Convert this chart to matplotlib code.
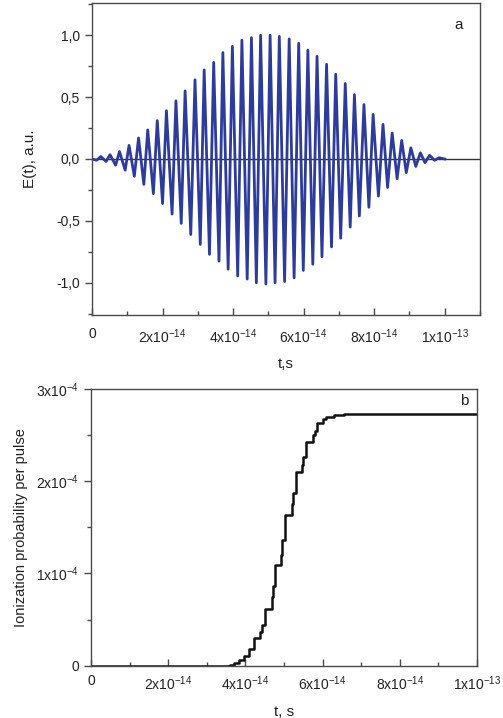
import matplotlib
matplotlib.use("Agg")
import matplotlib.pyplot as plt
import numpy as np
from matplotlib.ticker import MultipleLocator

plt.rcParams['font.family'] = ['Liberation Sans', 'DejaVu Sans']
plt.rcParams['mathtext.fontset'] = 'custom'
plt.rcParams['mathtext.rm'] = 'Liberation Sans'
plt.rcParams['mathtext.it'] = 'Liberation Sans:italic'
plt.rcParams['mathtext.bf'] = 'Liberation Sans:bold'
plt.rcParams['mathtext.default'] = 'rm'

# ---- Panel a: field extrema (t in 1e-14 s, amplitude in a.u.) ----
pos_t = [0.25, 0.51, 0.78, 1.05, 1.32, 1.58, 1.85, 2.11, 2.38, 2.64, 2.92, 3.18,
         3.45, 3.71, 3.98, 4.25, 4.52, 4.78, 5.05, 5.31, 5.59, 5.86, 6.12, 6.38,
         6.65, 6.91, 7.18, 7.44, 7.71, 7.97, 8.25, 8.51, 8.78, 9.04, 9.31, 9.57, 9.84]
pos_E = [0.02, 0.035, 0.06, 0.11, 0.17, 0.235, 0.31, 0.39, 0.47, 0.55, 0.64, 0.72,
         0.78, 0.86, 0.91, 0.96, 0.98, 1.0, 1.0, 0.99, 0.97, 0.935, 0.88, 0.83,
         0.765, 0.685, 0.61, 0.52, 0.44, 0.36, 0.28, 0.21, 0.15, 0.09, 0.05, 0.03, 0.01]
neg_t = [0.13, 0.40, 0.67, 0.94, 1.20, 1.47, 1.74, 2.00, 2.27, 2.53, 2.80, 3.07,
         3.33, 3.60, 3.86, 4.13, 4.40, 4.66, 4.93, 5.19, 5.46, 5.73, 5.99, 6.26,
         6.52, 6.79, 7.05, 7.32, 7.58, 7.85, 8.12, 8.38, 8.65, 8.91, 9.18, 9.44, 9.71]
neg_E = [-0.01, -0.02, -0.05, -0.09, -0.14, -0.205, -0.28, -0.36, -0.445, -0.52,
         -0.61, -0.69, -0.77, -0.825, -0.89, -0.945, -0.97, -1.0, -1.01, -1.0,
         -0.99, -0.96, -0.9, -0.85, -0.79, -0.71, -0.64, -0.55, -0.46, -0.39,
         -0.30, -0.23, -0.16, -0.11, -0.06, -0.03, -0.01]
pulse_start = 0.0
pulse_end = 10.0

# ---- Panel b: ionization probability steps (t in 1e-14 s, P in 1e-4) ----
step_t = [0.0, 3.60, 3.70, 3.83, 3.97, 4.10, 4.22, 4.37, 4.42, 4.50, 4.69, 4.72,
          4.76, 4.93, 4.96, 5.02, 5.20, 5.23, 5.30, 5.47, 5.50, 5.57, 5.76, 5.80,
          5.85, 6.00, 6.10, 6.30, 6.55, 10.0]
step_P = [0.0, 0.01, 0.03, 0.06, 0.10, 0.18, 0.30, 0.37, 0.44, 0.62, 0.75, 0.86,
          1.09, 1.20, 1.36, 1.63, 1.75, 1.87, 2.10, 2.18, 2.26, 2.43, 2.50, 2.55,
          2.63, 2.67, 2.70, 2.72, 2.724, 2.724]

xticks_a = [0, 2e-14, 4e-14, 6e-14, 8e-14, 1e-13]
xticklabels = ['0', r'2x10$^{-14}$', r'4x10$^{-14}$', r'6x10$^{-14}$',
               r'8x10$^{-14}$', r'1x10$^{-13}$']
yticks_a = [-1.0, -0.5, 0.0, 0.5, 1.0]
yticklabels_a = ['-1,0', '-0,5', '0,0', '0,5', '1,0']
yticks_b = [0, 1e-4, 2e-4, 3e-4]
yticklabels_b = ['0', r'1x10$^{-4}$', r'2x10$^{-4}$', r'3x10$^{-4}$']

# build series
t_line = [pulse_start]
E_line = [0.0]
for tn, en, tp, ep in zip(neg_t, neg_E, pos_t, pos_E):
    t_line += [tn, tp]
    E_line += [en, ep]
t_line.append(pulse_end)
E_line.append(0.0)
t_line = np.array(t_line) * 1e-14
E_line = np.array(E_line)

fig = plt.figure(figsize=(5.03, 7.18), dpi=100)
spine_c = '#4a4a4a'
txt_c = '#222222'

ax1 = fig.add_axes([92/503, 1-315/718, 388/503, 312/718])
ax1.axhline(0, color='#333333', lw=1.0, zorder=1)
ax1.plot(t_line, E_line, color='#2d3c9c', lw=2.0, solid_joinstyle='round', zorder=2)
ax1.set_xlim(0, 1.1e-13)
ax1.set_ylim(-1.26, 1.26)
ax1.set_xticks(xticks_a)
ax1.set_xticklabels(xticklabels)
ax1.xaxis.set_minor_locator(MultipleLocator(1e-14))
ax1.set_yticks(yticks_a)
ax1.set_yticklabels(yticklabels_a)
ax1.yaxis.set_minor_locator(MultipleLocator(0.25))
ax1.set_xlabel('t,s', fontsize=11, color=txt_c, labelpad=8)
ax1.set_ylabel('E(t), a.u.', fontsize=11, color=txt_c, labelpad=14)
ax1.text(0.946, 0.93, 'a', transform=ax1.transAxes, fontsize=11, color=txt_c,
         ha='center', va='center')

ax2 = fig.add_axes([91/503, 1-665.7/718, 386/503, 276.7/718])
ax2.plot(np.array(step_t) * 1e-14, np.array(step_P) * 1e-4, color='#111111',
         lw=1.8, drawstyle='steps-post')
ax2.set_xlim(0, 1e-13)
ax2.set_ylim(0, 3e-4)
ax2.set_xticks(xticks_a)
ax2.set_xticklabels(xticklabels)
ax2.xaxis.set_minor_locator(MultipleLocator(1e-14))
ax2.set_yticks(yticks_b)
ax2.set_yticklabels(yticklabels_b)
ax2.yaxis.set_minor_locator(MultipleLocator(0.5e-4))
ax2.set_xlabel('t, s', fontsize=11, color=txt_c, labelpad=9)
ax2.set_ylabel('Ionization probability per pulse', fontsize=10.5, color=txt_c, labelpad=6)
ax2.text(0.966, 0.958, 'b', transform=ax2.transAxes, fontsize=11, color=txt_c,
         ha='center', va='center')

for ax in (ax1, ax2):
    for s in ax.spines.values():
        s.set_color(spine_c)
        s.set_linewidth(1.0)
    ax.tick_params(axis='x', which='both', direction='in', colors=spine_c,
                   labelcolor=txt_c, labelsize=10)
    ax.tick_params(axis='y', which='both', direction='out', colors=spine_c,
                   labelcolor=txt_c, labelsize=10)
    ax.tick_params(which='major', length=5, width=1.0)
    ax.tick_params(which='minor', length=3, width=1.0)
ax1.tick_params(axis='x', which='major', pad=9)
ax2.tick_params(axis='x', which='major', pad=6)

fig.savefig('out.png', dpi=100)
